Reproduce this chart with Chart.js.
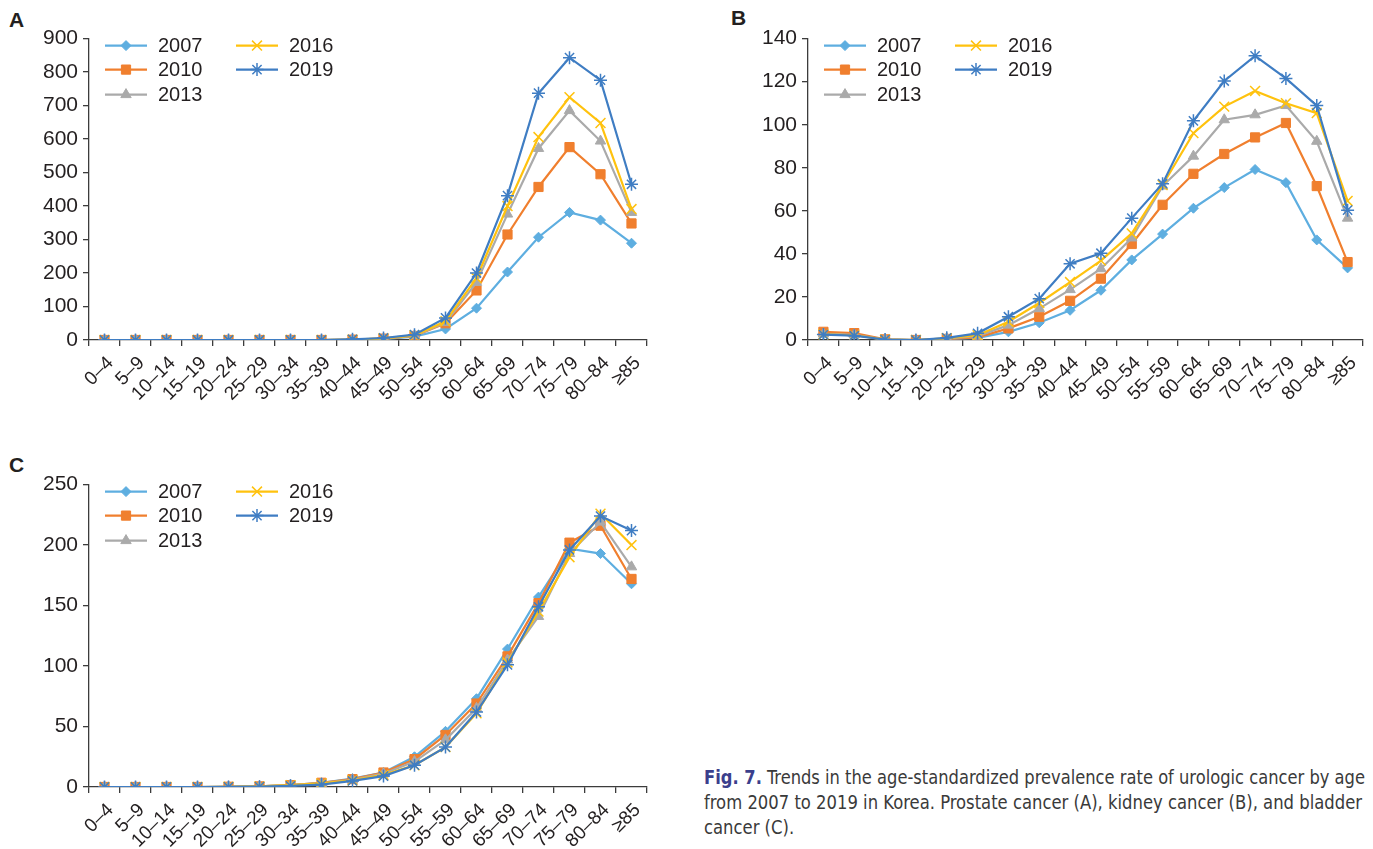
<!DOCTYPE html>
<html>
<head>
<meta charset="utf-8">
<script src="https://cdn.jsdelivr.net/npm/chart.js@4"></script>
<style>
  html, body { margin: 0; padding: 0; background: #fff; width: 1373px; height: 849px; overflow: hidden; }
  .panel { position: absolute; }
  .plabel { position: absolute; font: bold 21px "Liberation Sans", Arial, sans-serif; color: #231f20; }
  .cap { position: absolute; left: 704px; white-space: nowrap; font: 20px "Liberation Sans Narrow", "DejaVu Sans Condensed", "Liberation Sans", sans-serif; color: #3a3a3a; transform-origin: 0 0; }
  .cap b { color: #3b3f8c; }
</style>
</head>
<body>
<div class="plabel" style="left:9px;top:8px;">A</div>
<div class="plabel" style="left:731px;top:6px;">B</div>
<div class="plabel" style="left:9px;top:453px;">C</div>

<div class="panel" style="left:0;top:21px;"><canvas id="cA" width="660" height="389"></canvas></div>
<div class="panel" style="left:720px;top:21px;"><canvas id="cB" width="653" height="389"></canvas></div>
<div class="panel" style="left:0;top:467px;"><canvas id="cC" width="660" height="382"></canvas></div>

<div class="cap" id="cap1" style="top:765px;"><b>Fig. 7.</b> Trends in the age-standardized prevalence rate of urologic cancer by age</div>
<div class="cap" id="cap2" style="top:790px;">from 2007 to 2019 in Korea. Prostate cancer (A), kidney cancer (B), and bladder</div>
<div class="cap" id="cap3" style="top:815px;">cancer (C).</div>

<script>
// ---------- data ----------
const ageGroups = ['0–4','5–9','10–14','15–19','20–24','25–29','30–34','35–39','40–44','45–49','50–54','55–59','60–64','65–69','70–74','75–79','80–84','≥85'];
const years = ['2007','2010','2013','2016','2019'];

// A: prostate cancer
const prostate2007 = [0,0,0,0,0,0,0,0,1,3,10,33,95,203,307,381,358,289];
const prostate2010 = [0,0,0,0,0,0,0,0,1,4,12,50,148,315,457,576,495,348];
const prostate2013 = [0,0,0,0,0,0,0,0,1,4,13,52,172,376,572,685,594,381];
const prostate2016 = [0,0,0,0,0,0,0,0,1,5,14,56,185,400,606,725,648,391];
const prostate2019 = [0,0,0,0,0,0,0,0,2,6,16,66,200,431,737,843,776,465];

// B: kidney cancer
const kidney2007 = [2.8,2.5,0.2,0,0.5,1,3.8,8,13.8,23.1,37.2,49.2,61.2,70.8,79.2,73.1,46.5,33.5];
const kidney2010 = [3.8,3.2,0.3,0,0.5,1.2,5.4,10.8,18.2,28.5,44.6,62.8,77.2,86.4,94.1,100.8,71.5,36.2];
const kidney2013 = [2.8,2.4,0.2,0,0.8,1.8,6.9,14.6,23.4,33.1,47.4,71.5,85.4,102.3,104.6,108.9,92.3,56.6];
const kidney2016 = [2.6,2.2,0.2,0,0.8,2.2,8.5,17.2,26.9,36.9,49.5,72,96.1,108.4,115.7,110,105.4,64.6];
const kidney2019 = [2.5,2.0,0.2,0,1.0,3.1,10.8,19.2,35.4,40.3,56.6,72.6,101.8,120.3,132,121.5,108.9,60.3];

// C: bladder cancer
const bladder2007 = [0,0,0,0,0.2,0.5,1.5,3.5,7,12,25,46,73,114,157,197,193,168];
const bladder2010 = [0,0,0,0,0.2,0.5,1.5,3.5,6.5,12,23,43,69,108,152,202,216,172];
const bladder2013 = [0,0,0,0,0.2,0.5,1.5,3,6,11,21,39,65,105,141,193,219,182];
const bladder2016 = [0,0,0,0,0.2,0.5,1.5,3,5.5,10,18,33,61,103,145,190,226,200];
const bladder2019 = [0,0,0,0,0.1,0.3,1,2,5,9,18,33,62,101,149,196,224,212];

const yTicksA = {max: 900, step: 100};
const yTicksB = {max: 140, step: 20};
const yTicksC = {max: 250, step: 50};

// ---------- styles ----------
const seriesStyle = [
  {color: '#5eaee0', pointStyle: 'rectRot', radius: 5, fill: true},
  {color: '#f07f2e', pointStyle: 'rect', radius: 6.5, fill: true},
  {color: '#aaaaaa', pointStyle: 'triangle', radius: 6, fill: true},
  {color: '#ffc20e', pointStyle: 'crossRot', radius: 7, fill: false},
  {color: '#3f7dc3', pointStyle: 'star', radius: 6.5, fill: false}
];
const TXT = '#231f20';
const AX = '#3c3c3c';
const FONT = '"Liberation Sans", Arial, sans-serif';

function makeDatasets(seriesList) {
  return seriesList.map((vals, i) => {
    const s = seriesStyle[i];
    return {
      label: years[i],
      data: vals,
      borderColor: s.color,
      backgroundColor: s.color,
      pointBackgroundColor: s.color,
      pointBorderColor: s.color,
      pointStyle: s.pointStyle,
      pointRadius: s.radius,
      pointHoverRadius: s.radius,
      pointBorderWidth: s.fill ? 1 : 1.5,
      borderWidth: 2.2,
      tension: 0,
      order: seriesList.length - i
    };
  });
}

const legendPlugin = {
  id: 'colLegend',
  afterDraw(chart) {
    const ctx = chart.ctx;
    const left = chart.chartArea.left;
    const top = chart.chartArea.top;
    const rows = [7, 31, 56];
    const cols = [16, 147];
    ctx.save();
    chart.data.datasets.forEach((ds, i) => {
      const col = i < 3 ? 0 : 1;
      const row = i < 3 ? i : i - 3;
      const x0 = left + cols[col];
      const y = top + rows[row];
      const s = seriesStyle[i];
      ctx.strokeStyle = s.color;
      ctx.fillStyle = s.color;
      ctx.lineWidth = 2.2;
      ctx.beginPath();
      ctx.moveTo(x0, y);
      ctx.lineTo(x0 + 42, y);
      ctx.stroke();
      ctx.lineWidth = s.fill ? 1 : 1.5;
      Chart.helpers.drawPoint(ctx, {pointStyle: s.pointStyle, radius: s.radius, rotation: 0, borderWidth: s.fill ? 1 : 1.5}, x0 + 21, y);
      ctx.fillStyle = TXT;
      ctx.font = '20px ' + FONT;
      ctx.textBaseline = 'middle';
      ctx.textAlign = 'left';
      ctx.fillText(ds.label, x0 + 53, y + 1);
    });
    ctx.restore();
  }
};

function makeChart(id, seriesList, yt, yWidth, xHeight, padRight) {
  return new Chart(document.getElementById(id), {
    type: 'line',
    data: { labels: ageGroups, datasets: makeDatasets(seriesList) },
    options: {
      responsive: false,
      animation: false,
      events: [],
      layout: { padding: { left: 0, right: padRight, top: 0, bottom: 0 } },
      plugins: { legend: { display: false }, tooltip: { enabled: false } },
      scales: {
        x: {
          type: 'category',
          offset: true,
          grid: { display: true, drawOnChartArea: false, drawTicks: true, tickLength: 6, color: AX, lineWidth: 1.3, offset: true },
          border: { display: true, color: AX, width: 1.3 },
          ticks: { color: TXT, font: { family: FONT, size: 19 }, minRotation: 45, maxRotation: 45, autoSkip: false, padding: 6, labelOffset: 6 },
          afterFit(scale) { scale.height = xHeight; }
        },
        y: {
          min: 0, max: yt.max,
          grid: { display: true, drawOnChartArea: false, drawTicks: true, tickLength: 6, color: AX, lineWidth: 1.3 },
          border: { display: true, color: AX, width: 1.3 },
          ticks: { stepSize: yt.step, color: TXT, font: { family: FONT, size: 21 }, padding: 5 },
          afterFit(scale) { scale.width = yWidth; }
        }
      }
    },
    plugins: [legendPlugin]
  });
}

makeChart('cA', [prostate2007, prostate2010, prostate2013, prostate2016, prostate2019], yTicksA, 89, 70, 13);
makeChart('cB', [kidney2007, kidney2010, kidney2013, kidney2016, kidney2019], yTicksB, 88, 70, 10);
makeChart('cC', [bladder2007, bladder2010, bladder2013, bladder2016, bladder2019], yTicksC, 89, 62, 13);

// fit caption lines to reference widths
function fitLine(id, target) {
  const el = document.getElementById(id);
  const w = el.getBoundingClientRect().width;
  const s = target / w;
  el.style.transform = 'scaleX(' + s + ')';
  return s;
}
fitLine('cap1', 661);
const s2 = fitLine('cap2', 658);
document.getElementById('cap3').style.transform = 'scaleX(' + s2 + ')';
</script>
</body>
</html>
